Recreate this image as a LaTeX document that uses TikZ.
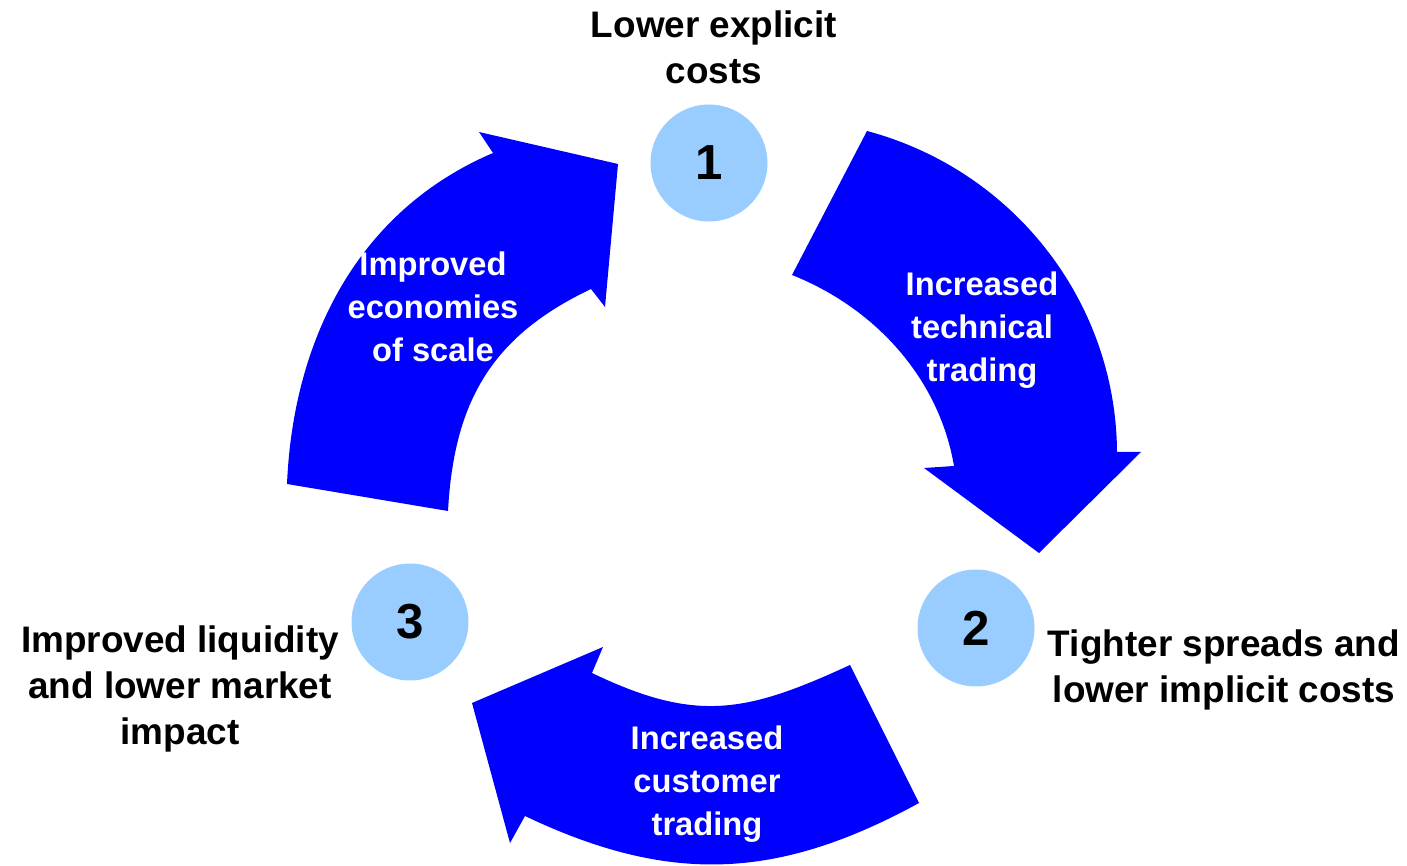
\documentclass[tikz,border=0pt]{standalone}
\usepackage{fontspec}
\setmainfont{Liberation Sans}
\definecolor{arrowblue}{RGB}{0,0,255}
\definecolor{numblue}{RGB}{153,204,255}
\begin{document}
\begin{tikzpicture}[x=0.1mm,y=-0.1mm,
           arrow_style/.style={fill=arrowblue},
           num_style/.style={circle,fill=numblue,minimum size=11.7mm,inner sep=0pt,font=\fontsize{14}{16}\selectfont\bfseries},
           label_style/.style={align=center,inner sep=0pt,font=\fontsize{10.5}{13.1}\selectfont\bfseries},
           arrow_text_style/.style={align=center,inner sep=0pt,text=white,font=\fontsize{9.3}{12.3}\selectfont\bfseries}]
            \useasboundingbox (0,0) rectangle (1407,866);
            % curved arrows 1 -> 2 -> 3 -> 1
            \fill[arrow_style] (867,131) .. controls (1013,170) and (1116,301) .. (1117,452)
                -- (1141,452) -- (1039,553) -- (924,468) -- (954,466)
                .. controls (939,378) and (875,308) .. (792,275) -- cycle;
            \fill[arrow_style] (850,665) -- (919,803)
                .. controls (778,880) and (670,885) .. (525,816)
                -- (510,843) -- (472,703) -- (603,647) -- (592,673)
                .. controls (696,723) and (746,713) .. (850,665) -- cycle;
            \fill[arrow_style] (287,484) .. controls (293,343) and (355,212) .. (493,153)
                -- (479,132) -- (618,164) -- (605,307) -- (591,289)
                .. controls (492,336) and (454,401) .. (448,511) -- cycle;
            \node[num_style] (c1) at (709,163) {1};
            \node[num_style] (c2) at (976,628) {2};
            \node[num_style] (c3) at (410,622) {3};
            \node[label_style] (l1) at (714,47) {Lower explicit\\costs};
            \node[label_style] (l2) at (1224,670) {Tighter spreads and\\lower implicit costs};
            \node[label_style] (l3) at (180,689) {Improved liquidity\\and lower market\\impact};
            \node[arrow_text_style] (t1) at (982,330) {Increased\\technical\\trading};
            \node[arrow_text_style] (t2) at (707,784) {Increased\\customer\\trading};
            \node[arrow_text_style] (t3) at (433,307) {Improved\\economies\\of scale};
        \end{tikzpicture}
\end{document}
